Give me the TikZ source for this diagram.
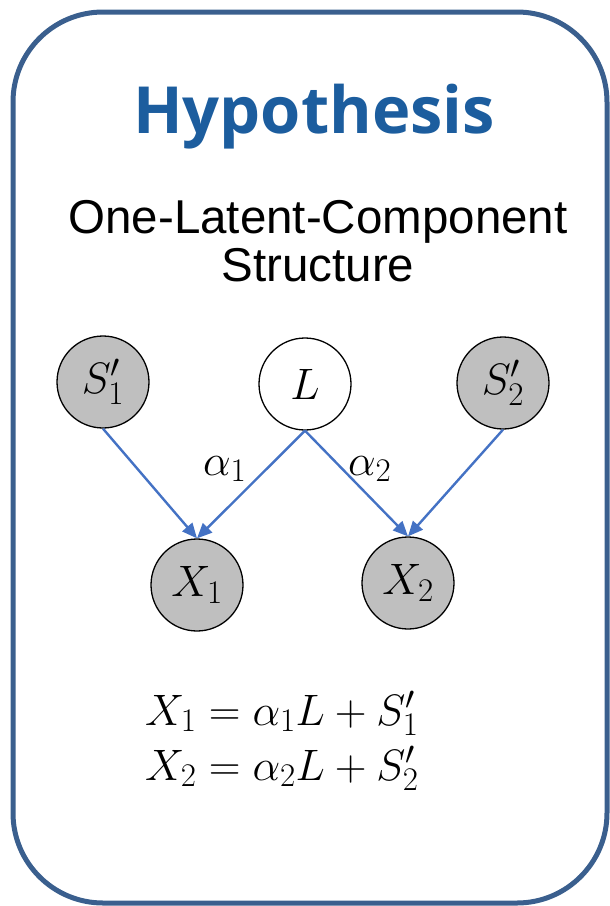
\RequirePackage{fix-cm}
\documentclass[tikz,border=0pt]{standalone}
\usepackage{fontspec}
\setmainfont{Liberation Sans}
\newfontfamily\titlefont{Open Sans}
\usetikzlibrary{arrows.meta}
% roomier script sizes for the large formula text
\DeclareMathSizes{44}{44}{33}{26}

\definecolor{frameblue}{RGB}{58,95,142}
\definecolor{titleblue}{RGB}{28,93,158}
\definecolor{edgeblue}{RGB}{68,114,196}
\definecolor{nodegray}{RGB}{191,191,191}

\tikzset{
  varnode/.style={circle, draw=black, line width=1.3pt, minimum size=92pt,
    inner sep=0pt, font=\fontsize{44}{44}\selectfont},
  observed/.style={varnode, fill=nodegray},
  latent/.style={varnode, fill=white},
  edge/.style={draw=edgeblue, line width=2.4pt,
    -{Triangle[length=15pt,width=13pt]}},
  mathlabel/.style={inner sep=0pt, font=\fontsize{44}{44}\selectfont},
}

\begin{document}
\begin{tikzpicture}[x=1pt, y=-1pt]
  \useasboundingbox (0,0) rectangle (610,906);

  % outer frame
  \draw[frameblue, line width=5pt, rounded corners=90pt] (13,12) rectangle (607,903);

  % headings
  \node[anchor=base, inner sep=0pt, text=titleblue,
        font=\titlefont\bfseries\fontsize{65}{65}\selectfont] (title) at (314,133) {Hypothesis};
  \node[anchor=base, inner sep=0pt, font=\fontsize{47.5}{47.5}\selectfont] (sub1) at (318,233) {One-Latent-Component};
  \node[anchor=base, inner sep=0pt, font=\fontsize{47.5}{47.5}\selectfont] (sub2) at (318,281) {Structure};

  % variables
  \node[observed] (S1) at (103,382) {$S'_1$};
  \node[latent]   (L)  at (305,384) {$L$};
  \node[observed] (S2) at (503,383) {$S'_2$};
  \node[observed] (X1) at (197,585) {$X_1$};
  \node[observed] (X2) at (408,583) {$X_2$};

  % causal edges
  \draw[edge] (S1.south) -- (X1.north);
  \draw[edge] (L.south) -- (X1.north);
  \draw[edge] (L.south) -- (X2.north);
  \draw[edge] (S2.south) -- (X2.north);

  % edge weights
  \node[mathlabel, anchor=base west] (a1) at (203,475) {$\alpha_1$};
  \node[mathlabel, anchor=base west] (a2) at (348,475) {$\alpha_2$};

  % structural equations
  \node[mathlabel, anchor=base west] (eq1) at (145,725) {$X_1 = \alpha_1 L + S'_1$};
  \node[mathlabel, anchor=base west] (eq2) at (145,780) {$X_2 = \alpha_2 L + S'_2$};
\end{tikzpicture}
\end{document}
